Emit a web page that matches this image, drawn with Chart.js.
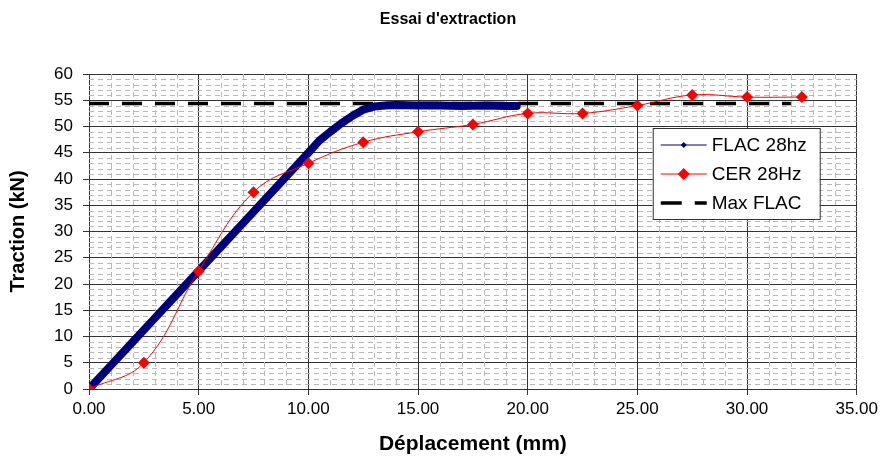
<!DOCTYPE html>
<html>
<head>
<meta charset="utf-8">
<title>Essai d'extraction</title>
<script src="https://cdn.jsdelivr.net/npm/chart.js@4"></script>
<style>
html, body { margin: 0; padding: 0; background: #fff; }
</style>
</head>
<body>
<canvas id="myChart" width="882" height="465"></canvas>
<script>
// FLAC 28hz
var flacX = [0, 1, 2, 3, 4, 5, 6, 7, 8, 9, 10, 10.5, 11, 11.5, 12, 12.5, 13, 13.5, 14, 15, 16, 17, 18, 19, 19.5];
var flacY = [0, 4.5, 9, 13.5, 18, 22.5, 27, 31.5, 36, 40.5, 45, 47.3, 49, 50.6, 52, 53.2, 53.8, 54, 54.1, 54, 54, 53.9, 54, 53.9, 53.9];

// CER 28Hz - the red diamonds
var cerX = [0, 2.5, 5, 7.5, 10, 12.5, 15, 17.5, 20, 22.5, 25, 27.5, 30, 32.5];
var cerY = [0, 5, 22.5, 37.5, 43, 47, 49, 50.4, 52.5, 52.5, 54, 56, 55.6, 55.6];

// Max FLAC - dashed horizontal line
var maxX = [0, 32];
var maxY = [54.4, 54.4];

var chartTitle = "Essai d'extraction";
var legendLabels = ["FLAC 28hz", "CER 28Hz", "Max FLAC"];

function toPoints(xs, ys) {
   var pts = [];
   for (var i = 0; i < xs.length; i++) {
      pts.push({x: xs[i], y: ys[i]});
   }
   return pts;
}

var fontFamily = "Liberation Sans, Arial, sans-serif";
var tickFont = {family: fontFamily, size: 17};

//Dashed light grey lines every 1 mm / 1 kN, under the data
var minorGrid = {
   id: "minorGrid",
   beforeDatasetsDraw: function(chart) {
      var ctx = chart.ctx;
      var area = chart.chartArea;
      var xs = chart.scales.x, ys = chart.scales.y;
      ctx.save();
      ctx.strokeStyle = "#b8b8b8";
      ctx.lineWidth = 1;
      ctx.setLineDash([5, 4]);
      for (var v = xs.min + 1; v < xs.max; v++) {
         if (v % 5 === 0) continue;
         var px = Math.round(xs.getPixelForValue(v)) + 0.5;
         ctx.beginPath();
         ctx.moveTo(px, area.top);
         ctx.lineTo(px, area.bottom);
         ctx.stroke();
      }
      for (var w = ys.min + 1; w < ys.max; w++) {
         if (w % 5 === 0) continue;
         var py = Math.round(ys.getPixelForValue(w)) + 0.5;
         ctx.beginPath();
         ctx.moveTo(area.left, py);
         ctx.lineTo(area.right, py);
         ctx.stroke();
      }
      ctx.restore();
   }
};

//Title drawn by hand so it can sit a bit right of the canvas middle, like the original
var topTitle = {
   id: "topTitle",
   afterDraw: function(chart) {
      var ctx = chart.ctx;
      ctx.save();
      ctx.fillStyle = "#000";
      ctx.font = "bold 16px 'Liberation Sans', Arial, sans-serif";
      ctx.textAlign = "center";
      ctx.textBaseline = "middle";
      ctx.fillText(chartTitle, 448, 20);
      ctx.restore();
   }
};

//Boxed legend inside the plot, like the spreadsheet one
var boxLegend = {
   id: "boxLegend",
   afterDraw: function(chart) {
      var ctx = chart.ctx;
      var area = chart.chartArea;
      var left = area.right - 204, top = area.top + 54;
      var w = 167, h = 91;
      ctx.save();
      ctx.fillStyle = "#fff";
      ctx.fillRect(left, top, w, h);
      ctx.strokeStyle = "#333";
      ctx.lineWidth = 1;
      ctx.strokeRect(left + 0.5, top + 0.5, w, h);

      var x0 = left + 8, x1 = left + 54, xm = (x0 + x1) / 2;
      var rows = [top + 17, top + 46, top + 75];

      // FLAC
      ctx.strokeStyle = "#000080";
      ctx.lineWidth = 1;
      ctx.beginPath(); ctx.moveTo(x0, rows[0]); ctx.lineTo(x1, rows[0]); ctx.stroke();
      ctx.fillStyle = "#000080";
      ctx.beginPath();
      ctx.moveTo(xm, rows[0] - 3); ctx.lineTo(xm + 3, rows[0]); ctx.lineTo(xm, rows[0] + 3); ctx.lineTo(xm - 3, rows[0]);
      ctx.closePath(); ctx.fill();

      // CER
      ctx.strokeStyle = "#ff0000";
      ctx.beginPath(); ctx.moveTo(x0, rows[1]); ctx.lineTo(x1, rows[1]); ctx.stroke();
      ctx.fillStyle = "#ff0000";
      ctx.beginPath();
      ctx.moveTo(xm, rows[1] - 6); ctx.lineTo(xm + 6, rows[1]); ctx.lineTo(xm, rows[1] + 6); ctx.lineTo(xm - 6, rows[1]);
      ctx.closePath(); ctx.fill();

      // Max FLAC
      ctx.strokeStyle = "#000";
      ctx.lineWidth = 3.5;
      ctx.setLineDash([21, 13]);
      ctx.beginPath(); ctx.moveTo(x0, rows[2]); ctx.lineTo(x1, rows[2]); ctx.stroke();
      ctx.setLineDash([]);

      ctx.fillStyle = "#000";
      ctx.font = "19px 'Liberation Sans', Arial, sans-serif";
      ctx.textBaseline = "middle";
      for (var i = 0; i < legendLabels.length; i++) {
         ctx.fillText(legendLabels[i], x1 + 5, rows[i] + 1);
      }
      ctx.restore();
   }
};

var ctx = document.getElementById("myChart").getContext("2d");
var chart = new Chart(ctx, {
   type: "line",
   data: {
      datasets: [{
         label: legendLabels[1],
         data: toPoints(cerX, cerY),
         borderColor: "#ff0000",
         backgroundColor: "#ff0000",
         borderWidth: 1,
         tension: 0.4,
         pointStyle: "rectRot",
         pointRadius: 6,
         pointBorderWidth: 0,
         order: 0
      }, {
         label: legendLabels[0],
         data: toPoints(flacX, flacY),
         borderColor: "#000080",
         backgroundColor: "#000080",
         borderWidth: 8,
         borderJoinStyle: "round",
         borderCapStyle: "round",
         pointRadius: 0,
         tension: 0,
         order: 1
      }, {
         label: legendLabels[2],
         data: toPoints(maxX, maxY),
         borderColor: "#000",
         borderWidth: 3.5,
         borderDash: [20, 13],
         pointRadius: 0,
         order: 2
      }]
   },
   options: {
      responsive: false,
      animation: false,
      devicePixelRatio: 1,
      layout: {padding: {left: 0, right: 25, top: 74, bottom: 0}},
      plugins: {
         legend: {display: false},
         tooltip: {enabled: false},
         title: {display: false}
      },
      scales: {
         x: {
            type: "linear",
            min: 0,
            max: 35,
            afterFit: function(s) { s.height = 76; },
            ticks: {
               stepSize: 5,
               color: "#000",
               font: tickFont,
               padding: 4,
               maxRotation: 0,
               autoSkip: false,
               callback: function(v) { return v.toFixed(2); }
            },
            grid: {color: "#333", tickColor: "#333", tickLength: 6},
            border: {color: "#333"},
            title: {display: true, text: "Déplacement (mm)", color: "#000",
                    font: {family: fontFamily, size: 21, weight: "bold"}, padding: {top: 0, bottom: 8}}
         },
         y: {
            min: 0,
            max: 60,
            afterFit: function(s) { s.width = 89; },
            ticks: {stepSize: 5, color: "#000", font: tickFont, padding: 10},
            grid: {color: "#333", tickColor: "#333", tickLength: 6},
            border: {color: "#333"},
            title: {display: true, text: "Traction (kN)", color: "#000",
                    font: {family: fontFamily, size: 20, weight: "bold"}, padding: {top: 6, bottom: 0}}
         }
      }
   },
   plugins: [minorGrid, boxLegend, topTitle]
});
</script>
</body>
</html>
